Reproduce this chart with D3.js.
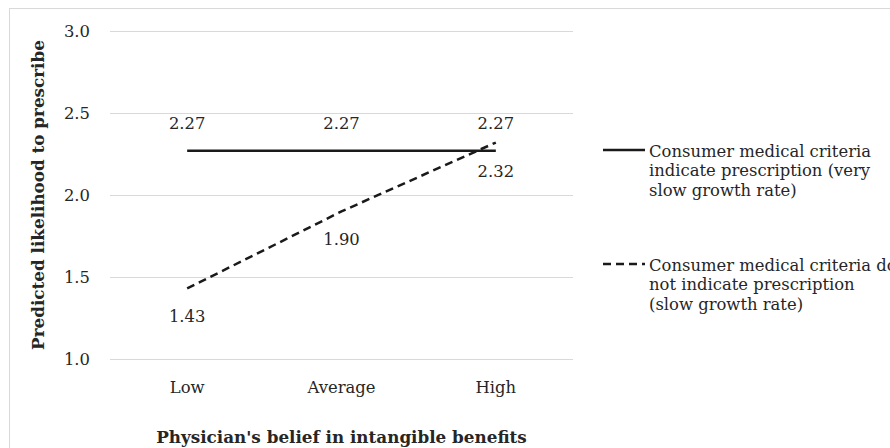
<!DOCTYPE html>
<html>
<head>
<meta charset="utf-8">
<script src="https://cdn.jsdelivr.net/npm/d3@7"></script>
<style>
  body { margin: 0; background: #fff; }
  svg { display: block; font-family: "DejaVu Serif", serif; }
</style>
</head>
<body>
<div id="chart"></div>
<script>
const categories = ['Low', 'Average', 'High'];
const solidValues = [2.27, 2.27, 2.27];
const dashedValues = [1.43, 1.90, 2.32];
const yTicks = [1.0, 1.5, 2.0, 2.5, 3.0];
const seriesNames = [
  ['Consumer medical criteria', 'indicate prescription (very', 'slow growth rate)'],
  ['Consumer medical criteria do', 'not indicate prescription', '(slow growth rate)']
];

const W = 890, H = 448;
const margin = {top: 31, left: 110, right: 317, bottom: 89};
const width = W - margin.left - margin.right;
const height = H - margin.top - margin.bottom;
const fs = 16.4;
const textColor = '#262626';

const svg = d3.select('#chart').append('svg')
    .attr('width', W)
    .attr('height', H);

// outer border (chart area is cropped at right and bottom)
svg.append('rect')
    .attr('x', 9.5).attr('y', 8.5)
    .attr('width', W).attr('height', H)
    .attr('fill', 'none')
    .attr('stroke', '#d9d9d9');

const g = svg.append('g')
    .attr('transform', `translate(${margin.left},${margin.top})`);

const x = d3.scaleBand()
    .domain(categories)
    .range([0, width]);

const y = d3.scaleLinear()
    .domain([1, 3])
    .range([height, 0]);

// gridlines + y labels
const yAxis = g.append('g')
    .call(d3.axisLeft(y).tickValues(yTicks).tickFormat(d3.format('.1f')).tickSize(-width).tickPadding(20));
yAxis.select('.domain').remove();
yAxis.selectAll('line').attr('stroke', '#d9d9d9');
yAxis.selectAll('text')
    .attr('font-size', fs)
    .attr('font-family', '"DejaVu Serif", serif')
    .attr('fill', textColor);

// x labels
const xAxis = g.append('g')
    .attr('transform', `translate(0,${height})`)
    .call(d3.axisBottom(x).tickSize(0).tickPadding(22));
xAxis.select('.domain').remove();
xAxis.selectAll('text')
    .attr('font-size', fs)
    .attr('font-family', '"DejaVu Serif", serif')
    .attr('fill', textColor);

const line = d3.line()
    .x((d, i) => x(categories[i]) + x.bandwidth() / 2)
    .y(d => y(d));

g.append('path')
    .datum(solidValues)
    .attr('fill', 'none')
    .attr('stroke', '#1a1a1a')
    .attr('stroke-width', 2.5)
    .attr('d', line);

g.append('path')
    .datum(dashedValues)
    .attr('fill', 'none')
    .attr('stroke', '#1a1a1a')
    .attr('stroke-width', 2.5)
    .attr('stroke-dasharray', '8,5')
    .attr('d', line);

// data labels
g.selectAll('.lab-solid')
    .data(solidValues)
    .join('text')
    .attr('x', (d, i) => x(categories[i]) + x.bandwidth() / 2)
    .attr('y', d => y(d) - 22)
    .attr('text-anchor', 'middle')
    .attr('font-size', fs)
    .attr('fill', textColor)
    .text(d => d.toFixed(2));

g.selectAll('.lab-dashed')
    .data(dashedValues)
    .join('text')
    .attr('x', (d, i) => x(categories[i]) + x.bandwidth() / 2)
    .attr('y', d => y(d) + 34)
    .attr('text-anchor', 'middle')
    .attr('font-size', fs)
    .attr('fill', textColor)
    .text(d => d.toFixed(2));

// axis titles
svg.append('text')
    .attr('x', margin.left + width / 2)
    .attr('y', 443)
    .attr('text-anchor', 'middle')
    .attr('font-size', 16.8)
    .attr('font-weight', 'bold')
    .attr('fill', textColor)
    .text("Physician's belief in intangible benefits");

svg.append('text')
    .attr('transform', 'rotate(-90)')
    .attr('x', -(margin.top + height / 2))
    .attr('y', 44)
    .attr('text-anchor', 'middle')
    .attr('font-size', 16.8)
    .attr('font-weight', 'bold')
    .attr('fill', textColor)
    .text('Predicted likelihood to prescribe');

// legend
const legend = svg.append('g').attr('transform', 'translate(603, 0)');
const legendY = [150, 264];
const dashes = [null, '8,5'];
seriesNames.forEach((lines, k) => {
  legend.append('line')
      .attr('x1', 0).attr('x2', 42)
      .attr('y1', legendY[k]).attr('y2', legendY[k])
      .attr('stroke', '#1a1a1a')
      .attr('stroke-width', 2.5)
      .attr('stroke-dasharray', dashes[k]);
  legend.append('text')
      .attr('x', 46)
      .attr('y', legendY[k] + 1)
      .attr('font-size', fs)
      .attr('fill', textColor)
      .selectAll('tspan')
      .data(lines)
      .join('tspan')
      .attr('x', 46)
      .attr('dy', (d, i) => i === 0 ? '0.35em' : 19.5)
      .text(d => d);
});
</script>
</body>
</html>
